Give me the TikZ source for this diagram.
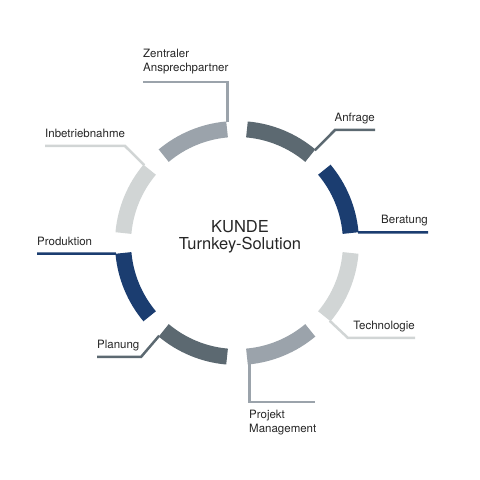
\documentclass[tikz,border=0pt]{standalone}
\usepackage{fontspec}
\setmainfont{TeX Gyre Heros}
\usepackage{tikz}
\definecolor{kdnavy}{HTML}{1B3D70}
\definecolor{kdslate}{HTML}{5C6971}
\definecolor{kdgray}{HTML}{9BA3AB}
\definecolor{kdlight}{HTML}{D1D5D5}
\definecolor{kdtext}{HTML}{262626}

\begin{document}
\begin{tikzpicture}[x=1pt,y=1pt,
  seg/.style={line width=16pt},
  lead/.style={line width=2.5pt},
  lbl/.style={font=\fontsize{11.5}{14}\selectfont,text=kdtext,inner sep=0pt}]
  \useasboundingbox (0,0) rectangle (480,480);
  \coordinate (C) at (237,237);

  \draw[seg,kdslate] ([shift={(50:114)}]C) arc[start angle=50,end angle=85,radius=114];
  \draw[seg,kdnavy] ([shift={(5:114)}]C) arc[start angle=5,end angle=40,radius=114];
  \draw[seg,kdlight] ([shift={(-40:114)}]C) arc[start angle=-40,end angle=-5,radius=114];
  \draw[seg,kdgray] ([shift={(-85:114)}]C) arc[start angle=-85,end angle=-50,radius=114];
  \draw[seg,kdslate] ([shift={(230:114)}]C) arc[start angle=230,end angle=265,radius=114];
  \draw[seg,kdnavy] ([shift={(185:114)}]C) arc[start angle=185,end angle=220,radius=114];
  \draw[seg,kdlight] ([shift={(140:114)}]C) arc[start angle=140,end angle=175,radius=114];
  \draw[seg,kdgray] ([shift={(95:114)}]C) arc[start angle=95,end angle=130,radius=114];

  \coordinate (zen) at ([shift={(94.5:121)}]C);
  \coordinate (zenend) at (143,398);
  \coordinate (anf) at ([shift={(50:121)}]C);
  \coordinate (anfbend) at (335,350);
  \coordinate (anfend) at (375,350);
  \coordinate (ber) at ([shift={(5:121.5)}]C);
  \coordinate (berend) at (428,247.6);
  \coordinate (tech) at ([shift={(-40:121)}]C);
  \coordinate (techbend) at (348,142);
  \coordinate (techend) at (415,142);
  \coordinate (proj) at ([shift={(-84:121)}]C);
  \coordinate (projend) at (315,78);
  \coordinate (plan) at ([shift={(230:121)}]C);
  \coordinate (planbend) at (141,123);
  \coordinate (planend) at (97,123);
  \coordinate (prod) at ([shift={(185:121.5)}]C);
  \coordinate (prodend) at (37,226.4);
  \coordinate (inb) at ([shift={(140:121)}]C);
  \coordinate (inbbend) at (125,334);
  \coordinate (inbend) at (45,334);

  \draw[lead,kdgray] (zen) |- (zenend);
  \draw[lead,kdslate] (anf) -- (anfbend) -- (anfend);
  \draw[lead,kdnavy] (ber) -- (berend);
  \draw[lead,kdlight] (tech) -- (techbend) -- (techend);
  \draw[lead,kdgray] (proj) |- (projend);
  \draw[lead,kdslate] (plan) -- (planbend) -- (planend);
  \draw[lead,kdnavy] (prod) -- (prodend);
  \draw[lead,kdlight] (inb) -- (inbbend) -- (inbend);

  \node[lbl,anchor=south west,align=left] (zentxt) at (143,405.5) {Zentraler\\Ansprechpartner};
  \node[lbl,anchor=base east] (anftxt) at (375,358) {Anfrage};
  \node[lbl,anchor=base east] (bertxt) at (428,256) {Beratung};
  \node[lbl,anchor=base east] (techtxt) at (415,150) {Technologie};
  \node[lbl,anchor=north west,align=left] (projtxt) at (249,70) {Projekt\\Management};
  \node[lbl,anchor=base west] (plantxt) at (97,131) {Planung};
  \node[lbl,anchor=base west] (prodtxt) at (37,234.5) {Produktion};
  \node[lbl,anchor=base west] (inbtxt) at (45,342) {Inbetriebnahme};

  \node[font=\fontsize{16.5}{17}\selectfont,align=center,inner sep=0pt,text=kdtext] (kunde) at (240,243.7) {KUNDE\\Turnkey-Solution};
\end{tikzpicture}
\end{document}
